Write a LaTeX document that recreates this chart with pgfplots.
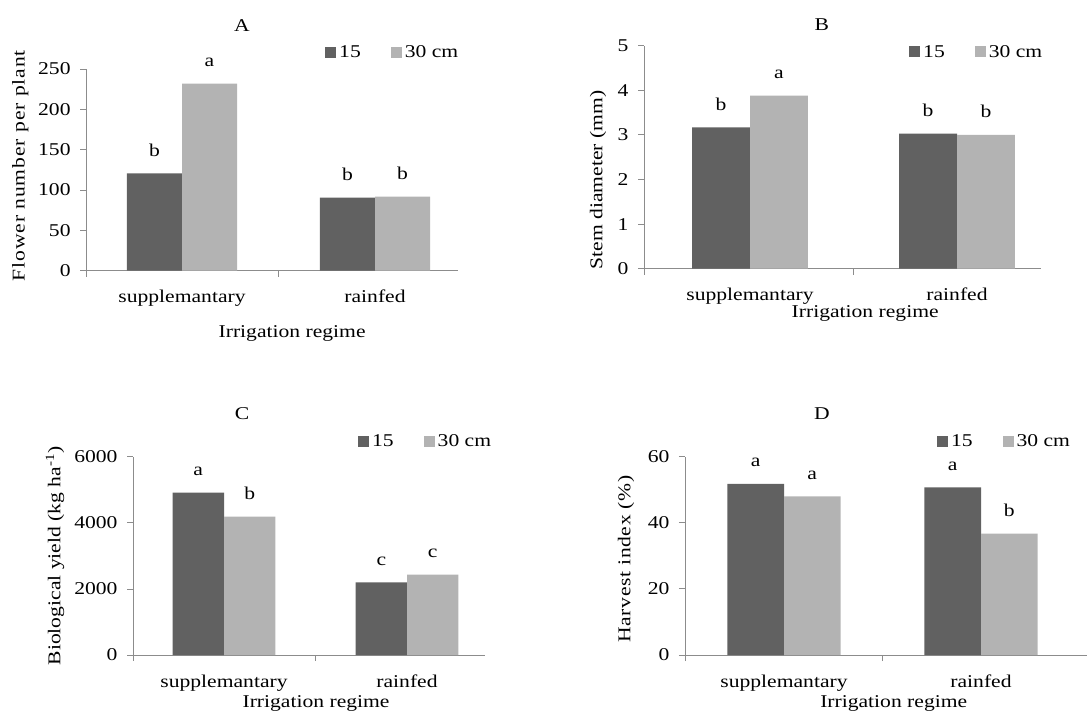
\documentclass[border=0pt]{standalone}
\usepackage{pgfplots}
\pgfplotsset{compat=1.18}
\usepackage{fontspec}
\setmainfont{Liberation Serif}[FakeStretch=1.2]
\definecolor{darkbar}{HTML}{616161}
\definecolor{lightbar}{HTML}{B3B3B3}
\definecolor{axgray}{HTML}{8C8C8C}
\newcommand{\fs}{\fontsize{18bp}{21bp}\selectfont}
\pgfplotsset{
 panel/.style={
  ybar, clip=false, enlargelimits=false,
  axis x line*=bottom, axis y line*=left,
  axis line style={draw=axgray, line width=0.8bp, -},
  tick style={draw=axgray, line width=0.8bp},
  tick align=outside, major tick length=6bp,
  xticklabels={},
  extra x ticks={0,1}, extra x tick labels={supplemantary,rainfed},
  extra x tick style={major tick length=0pt, tick label style={yshift=-16bp}},
  /pgf/number format/assume math mode=true,
  /pgf/number format/1000 sep={},
  tick label style={font=\fs, text=black},
  yticklabel style={xshift=-6bp},
  label style={font=\fs},
  title style={font=\fs},
  nodes near coords, point meta=explicit symbolic,
  nodes near coords style={font=\fs, anchor=base, yshift=17bp, text=black},
  legend style={draw=none, fill=none, font=\fs, legend columns=2, anchor=west, inner sep=0pt,
     nodes={inner sep=3bp},
     /tikz/every even column/.append style={column sep=27bp}},
  legend image code/.code={\fill[##1] (0bp,-5.5bp) rectangle (11bp,5.5bp);},
 }
}
\begin{document}
\begin{tikzpicture}
\path[use as bounding box] (0,0) rectangle (1087bp,713bp);
% Panel A
\begin{axis}[panel, at={(182bp,442.3bp)}, anchor=origin, x=193bp, y=0.8068bp,
 xmin=-0.497, xmax=1.43, ymin=0, ymax=250, ytick distance=50, xtick={-0.497,0.5},
 title={A}, title style={at={(axis description cs:0.419,1.188)}, anchor=center},
 xlabel={Irrigation regime}, xlabel style={at={(axis description cs:0.554,-0.309)}, anchor=center},
 ylabel={\addfontfeature{LetterSpace=5}Flower number per plant}, ylabel style={at={(axis description cs:-0.177,0.52)}, anchor=center},
 legend style={at={(axis description cs:0.6425,1.084)}}]
\addplot[fill=darkbar, draw=none, bar shift=-0.1425, bar width=0.285] coordinates {(0,120.7)[b] (1,90.5)[b]};
\addlegendentry{15}
\addplot[fill=lightbar, draw=none, bar shift=0.1425, bar width=0.285] coordinates {(0,232)[a] (1,91.7)[b]};
\addlegendentry{30 cm}
\end{axis}
% Panel B
\begin{axis}[panel, at={(750bp,444.3bp)}, anchor=origin, x=207bp, y=44.6bp,
 xmin=-0.512, xmax=1.406, ymin=0, ymax=5, ytick distance=1, xtick={-0.512,0.5},
 title={B}, title style={at={(axis description cs:0.448,1.066)}, anchor=center},
 xlabel={Irrigation regime}, xlabel style={at={(axis description cs:0.557,-0.203)}, anchor=center},
 ylabel={Stem diameter (mm)}, ylabel style={at={(axis description cs:-0.116,0.398)}, anchor=center},
 legend style={at={(axis description cs:0.6675,0.972)}}]
\addplot[fill=darkbar, draw=none, bar shift=-0.14, bar width=0.28] coordinates {(0,3.17)[b] (1,3.03)[b]};
\addlegendentry{15}
\addplot[fill=lightbar, draw=none, bar shift=0.14, bar width=0.28] coordinates {(0,3.88)[a] (1,3.0)[b]};
\addlegendentry{30 cm}
\end{axis}
% Panel C
\begin{axis}[panel, at={(224bp,58bp)}, anchor=origin, x=183bp, y=0.03305bp,
 xmin=-0.497, xmax=1.426, ymin=0, ymax=6000, ytick distance=2000, xtick={-0.497,0.5},
 title={C}, title style={at={(axis description cs:0.31,1.185)}, anchor=center},
 xlabel={Irrigation regime}, xlabel style={at={(axis description cs:0.52,-0.242)}, anchor=center},
 ylabel={Biological yield (kg ha\textsuperscript{-1})}, ylabel style={at={(axis description cs:-0.222,0.5)}, anchor=center},
 legend style={at={(axis description cs:0.639,1.079)}}]
\addplot[fill=darkbar, draw=none, bar shift=-0.1405, bar width=0.281] coordinates {(0,4910)[a] (1,2200)[c]};
\addlegendentry{15}
\addplot[fill=lightbar, draw=none, bar shift=0.1405, bar width=0.281] coordinates {(0,4185)[b] (1,2430)[c]};
\addlegendentry{30 cm}
\end{axis}
% Panel D
\begin{axis}[panel, at={(784bp,58bp)}, anchor=origin, x=197bp, y=3.305bp,
 xmin=-0.503, xmax=1.6, ymin=0, ymax=60, ytick distance=20, xtick={-0.503,0.5},
 title={D}, title style={at={(axis description cs:0.331,1.185)}, anchor=center},
 xlabel={Irrigation regime}, xlabel style={at={(axis description cs:0.504,-0.242)}, anchor=center},
 ylabel={\addfontfeature{LetterSpace=3.5}Harvest index (\%)}, ylabel style={at={(axis description cs:-0.142,0.484)}, anchor=center},
 legend style={at={(axis description cs:0.608,1.079)}}]
\addplot[fill=darkbar, draw=none, bar shift=-0.1435, bar width=0.287] coordinates {(0,51.8)[a] (1,50.7)[a]};
\addlegendentry{15}
\addplot[fill=lightbar, draw=none, bar shift=0.1435, bar width=0.287] coordinates {(0,48.0)[a] (1,36.7)[b]};
\addlegendentry{30 cm}
\end{axis}
\end{tikzpicture}
\end{document}
